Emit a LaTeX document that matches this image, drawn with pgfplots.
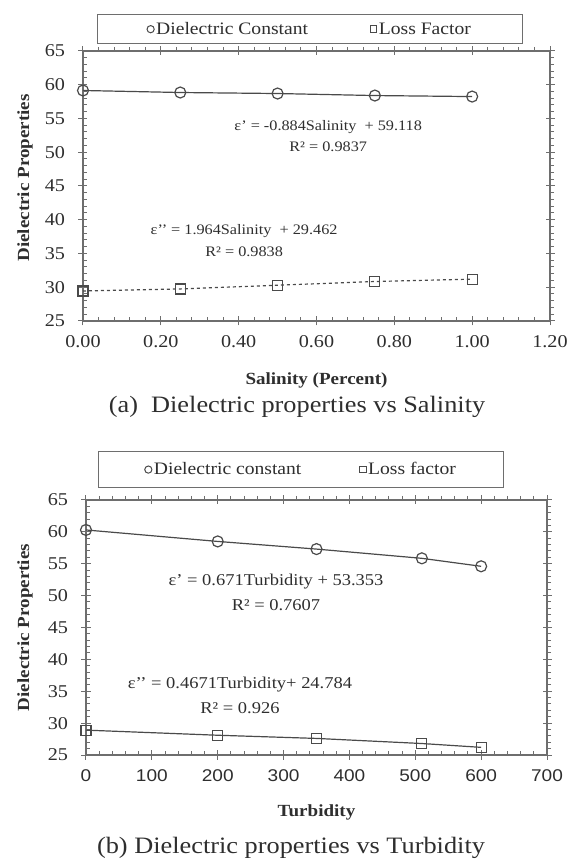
\documentclass[border=0pt]{standalone}
\usepackage{fontspec}
\setmainfont{Liberation Serif}[FakeStretch=1.12]
\newfontfamily\arialf{Liberation Sans}[FakeStretch=1.12]
\usepackage{pgfplots}
\pgfplotsset{compat=1.18}
\definecolor{axisgray}{HTML}{6E6E6E}
\definecolor{linegray}{HTML}{4A4A4A}
\definecolor{txt}{HTML}{2E2E2E}

\tikzset{annot/.style={font=\fontsize{14.5}{16}\selectfont, text=txt, inner sep=0pt}}
\pgfplotsset{
  common/.style={
    scale only axis,
    axis line style={draw=axisgray, line width=1.3pt},
    tick style={draw=axisgray, line width=1pt},
    tick align=center,
    major tick length=9pt,
    minor tick length=4pt,
    minor x tick style={yshift=2pt},
    minor y tick style={xshift=2pt},
    minor y tick num=4,
    minor x tick num=4,
    ymin=25, ymax=65,
    ytick={25,30,35,40,45,50,55,60,65},
    /pgf/number format/assume math mode=true,
    yticklabel style={font=\fontsize{18}{20}\selectfont, text=txt, xshift=-10pt},
    xticklabel style={text=txt, yshift=-7pt},
    every axis x label/.style={at={(axis description cs:0.5,0)}, anchor=center, font=\bfseries\fontsize{17}{20}\selectfont, text=txt},
    every axis y label/.style={rotate=90, anchor=center, font=\bfseries\fontsize{17}{20}\selectfont, text=txt},
    legend image code/.code={\draw[#1] plot[only marks] coordinates {(2pt,0pt)};},
    legend cell align=left,
  },
}

\begin{document}
\begin{tikzpicture}
\useasboundingbox (0pt,0pt) rectangle (571pt,863pt);

% ---------- (a) Salinity ----------
\begin{axis}[common,
  at={(83pt,542pt)}, anchor=south west, width=467pt, height=270pt,
  xmin=0, xmax=1.2,
  xtick={0,0.2,0.4,0.6,0.8,1.0,1.2},
  xticklabel style={font=\fontsize{18}{20}\selectfont, /pgf/number format/.cd, fixed, fixed zerofill, precision=2},
  xlabel={Salinity (Percent)},
  xlabel style={yshift=-59pt},
  ylabel={Dielectric Properties},
  ylabel style={at={(axis description cs:-0.124,0.53)}},
  legend style={at={(0.486,1)}, anchor=south, yshift=7pt, draw=axisgray, line width=1pt,
    font=\fontsize{17.5}{20}\selectfont, text=txt, inner xsep=50pt, inner ysep=5.5pt,
    legend columns=2, /tikz/every even column/.append style={column sep=60pt}},
]
\addlegendimage{mark=o, mark size=3.6pt, linegray, line width=1pt}
\addlegendentry{Dielectric Constant}
\addlegendimage{mark=square, mark size=3.4pt, linegray, line width=1pt}
\addlegendentry{Loss Factor}
\addplot[forget plot, linegray, line width=1.2pt, mark=o, mark size=5.5pt, mark options={solid, line width=1.2pt}]
  coordinates {(0,59.15) (0.25,58.85) (0.5,58.7) (0.75,58.4) (1.0,58.25)};
\addplot[forget plot, linegray, line width=1.2pt, dash pattern=on 3pt off 3pt, mark=square, mark size=5pt, mark options={solid, line width=1.2pt}]
  coordinates {(0,29.45) (0.25,29.75) (0.5,30.3) (0.75,30.85) (1.0,31.2)};
\node[annot] at (axis cs:0.630,53.74) {ε' = -0.884Salinity \ + 59.118};
\node[annot] at (axis cs:0.630,50.78) {R² = 0.9837};
\node[annot] at (axis cs:0.414,38.33) {ε'{}' = 1.964Salinity \ + 29.462};
\node[annot] at (axis cs:0.414,35.22) {R² = 0.9838};
\end{axis}
\node[font=\fontsize{23.5}{26}\selectfont, text=txt] at (297pt,456pt) {(a) \ Dielectric properties vs Salinity};

% ---------- (b) Turbidity ----------
\begin{axis}[common,
  at={(86pt,108pt)}, anchor=south west, width=461pt, height=255pt,
  xmin=0, xmax=700,
  xtick={0,100,200,300,400,500,600,700},
  xticklabel style={font=\arialf\fontsize{17}{20}\selectfont},
  xlabel={Turbidity},
  xlabel style={yshift=-57pt},
  ylabel={Dielectric Properties},
  ylabel style={at={(axis description cs:-0.132,0.5)}},
  legend style={at={(0.467,1)}, anchor=south, yshift=12pt, draw=axisgray, line width=1pt,
    font=\fontsize{17.5}{20}\selectfont, text=txt, inner xsep=46pt, inner ysep=9pt,
    legend columns=2, /tikz/every even column/.append style={column sep=56pt}},
]
\addlegendimage{mark=o, mark size=3.6pt, linegray, line width=1pt}
\addlegendentry{Dielectric constant}
\addlegendimage{mark=square, mark size=3.4pt, linegray, line width=1pt}
\addlegendentry{Loss factor}
\addplot[forget plot, linegray, line width=1.2pt, mark=o, mark size=5.5pt, mark options={solid, line width=1.2pt}]
  coordinates {(0,60.3) (200,58.5) (350,57.3) (510,55.85) (600,54.6)};
\addplot[forget plot, linegray, line width=1.2pt, mark=square, mark size=5pt, mark options={solid, line width=1.2pt}]
  coordinates {(0,28.9) (200,28.1) (350,27.6) (510,26.8) (600,26.2)};
\node[annot, font=\fontsize{16.5}{18}\selectfont] at (axis cs:288.5,52.14) {ε' = 0.671Turbidity + 53.353};
\node[annot, font=\fontsize{16.5}{18}\selectfont] at (axis cs:288.5,48.53) {R² = 0.7607};
\node[annot, font=\fontsize{16.5}{18}\selectfont] at (axis cs:233.8,35.98) {ε'{}' = 0.4671Turbidity+ 24.784};
\node[annot, font=\fontsize{16.5}{18}\selectfont] at (axis cs:233.8,32.37) {R² = 0.926};
\end{axis}
\node[font=\fontsize{23.5}{26}\selectfont, text=txt] at (291pt,15pt) {(b) Dielectric properties vs Turbidity};
\end{tikzpicture}
\end{document}
